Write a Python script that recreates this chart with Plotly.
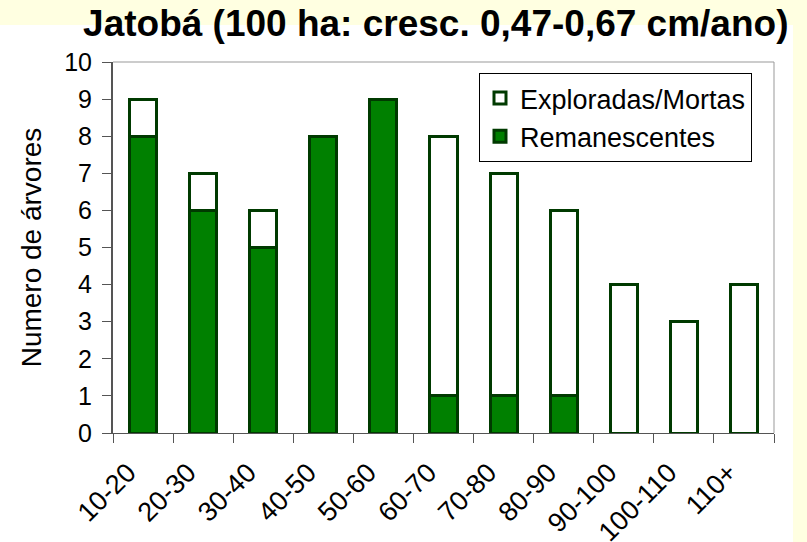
import plotly.graph_objects as go

categories = ["10-20", "20-30", "30-40", "40-50", "50-60", "60-70", "70-80",
              "80-90", "90-100", "100-110", "110+"]
remanescentes = [8, 6, 5, 8, 9, 1, 1, 1, 0, 0, 0]
exploradas = [1, 1, 1, 0, 0, 7, 6, 5, 4, 3, 4]

FONT = "Liberation Sans, Arial, sans-serif"
EDGE = "#003a00"

fig = go.Figure()
fig.add_trace(go.Bar(
    x=categories, y=remanescentes, name="Remanescentes",
    marker=dict(color="#008000", line=dict(color=EDGE, width=3)),
))
fig.add_trace(go.Bar(
    x=categories, y=exploradas, name="Exploradas/Mortas",
    marker=dict(color="#ffffff", line=dict(color=EDGE, width=3)),
))

W, H = 807, 542
L, R, T, B = 113, 33, 62, 109
pw, ph = W - L - R, H - T - B

def px_x(px):
    return (px - L) / pw

def px_y(py):
    return (H - B - py) / ph

yellow = "#ffffe1"
fig.add_shape(type="rect", xref="paper", yref="paper", layer="below",
              x0=px_x(-5), x1=px_x(W + 5), y0=px_y(25), y1=px_y(-5),
              fillcolor=yellow, line_width=0)
fig.add_shape(type="rect", xref="paper", yref="paper", layer="below",
              x0=px_x(793), x1=px_x(W + 5), y0=px_y(H + 5), y1=px_y(25),
              fillcolor=yellow, line_width=0)

fig.update_layout(
    width=W, height=H,
    margin=dict(l=L, r=R, t=T, b=B, autoexpand=False),
    barmode="stack", bargap=0.55,
    paper_bgcolor="white", plot_bgcolor="white",
    font=dict(family=FONT, size=24, color="black"),
    title=dict(text="<b>Jatobá (100 ha: cresc. 0,47-0,67 cm/ano)</b>",
               font=dict(size=37, family=FONT, color="black"),
               x=0.540, xref="container", xanchor="center",
               y=1 - 23.5 / H, yref="container", yanchor="middle",
               automargin=False),
    legend=dict(x=px_x(479), y=px_y(73), xanchor="left", yanchor="top",
                traceorder="reversed", bgcolor="white",
                bordercolor="black", borderwidth=1,
                font=dict(size=27, family=FONT),
                itemwidth=30, tracegroupgap=0),
    showlegend=True,
)
fig.update_xaxes(
    type="category", tickangle=-45, tickson="boundaries",
    ticks="outside", ticklen=9, tickcolor="#555555",
    showline=True, linecolor="#555555", linewidth=1, mirror=False,
    showgrid=False, tickfont=dict(size=27, family=FONT),
    ticklabelshift=-15, ticklabelstandoff=12,
    automargin=False,
)
fig.update_yaxes(
    range=[0, 10], dtick=1, ticks="outside", ticklen=9, tickcolor="#555555",
    showline=True, linecolor="#555555", linewidth=2,
    showgrid=False, zeroline=False,
    tickfont=dict(size=25, family=FONT), ticklabelstandoff=5,
    title=dict(text="Numero de árvores", font=dict(size=28, family=FONT),
               standoff=14),
    automargin=False,
)
# plot area border (top and right)
fig.add_shape(type="line", xref="paper", yref="paper", x0=0, x1=1, y0=1, y1=1,
              line=dict(color="#999999", width=1))
fig.add_shape(type="line", xref="paper", yref="paper", x0=1, x1=1, y0=0, y1=1,
              line=dict(color="#999999", width=1))

fig.write_html("out.html",
               config={"displayModeBar": False},
               post_script="document.body.style.margin='0px';"
                           "document.body.style.overflow='hidden';")
